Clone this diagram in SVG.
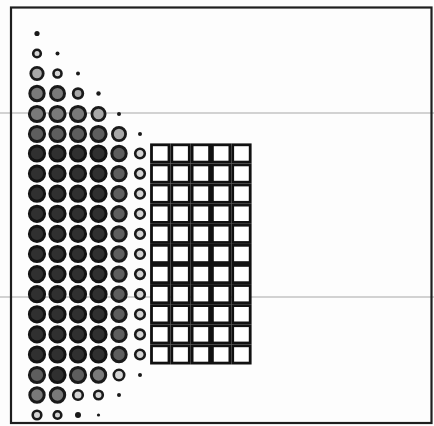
<svg xmlns="http://www.w3.org/2000/svg" xmlns:xlink="http://www.w3.org/1999/xlink" width="434" height="426" viewBox="0 0 434 426">
<style>
.bg{fill:#fdfdfd}
.frame{fill:none;stroke:#1e1e1e;stroke-width:2.2}
.rule{stroke:#a8a8a8;stroke-width:1.2}
.dk{fill:#303030;stroke:#141414;stroke-width:3}
.md{fill:#5e5e5e;stroke:#1a1a1a;stroke-width:3}
.gr{fill:#7a7a7a;stroke:#1a1a1a;stroke-width:3}
.lt{fill:#a8a8a8;stroke:#1a1a1a;stroke-width:2.8}
.rg{fill:#d4d4d4;stroke:#1a1a1a;stroke-width:2.6}
.dot{fill:#1a1a1a}
.sq{fill:#fff;stroke:#111;stroke-width:2.8}
</style>
<defs>
<rect id="s" class="sq" width="17.5" height="17.3"/>
<circle id="big" class="dk" r="7.6"/>
<circle id="m5" class="md" r="7.2"/>
<circle id="r6" class="rg" r="4.8"/>
<g id="row">
<use href="#big" x="37"/><use href="#big" x="57.5"/><use href="#big" x="78"/><use href="#big" x="98.5"/>
<use href="#m5" x="119"/><use href="#r6" x="140"/>
<use href="#s" x="151.5" y="-8.7"/><use href="#s" x="171.8" y="-8.7"/><use href="#s" x="192.1" y="-8.7"/><use href="#s" x="212.4" y="-8.7"/><use href="#s" x="232.7" y="-8.7"/>
</g>
</defs>
<rect class="bg" x="0" y="0" width="434" height="426"/>
<line class="rule" x1="0" y1="113" x2="434" y2="113"/>
<line class="rule" x1="0" y1="297" x2="434" y2="297"/>
<rect class="frame" x="11" y="7.5" width="420.5" height="415.5"/>
<g id="top-rows">
<circle class="dot" cx="37" cy="33.5" r="2.6"/>
<circle class="rg" cx="37" cy="53.5" r="3.8"/>
<circle class="dot" cx="57.5" cy="53.5" r="2"/>
<circle class="lt" cx="37" cy="73.5" r="6.2"/>
<circle class="rg" cx="57.5" cy="73.5" r="4"/>
<circle class="dot" cx="78" cy="73.5" r="2"/>
<circle class="gr" cx="37" cy="93.5" r="7.2"/>
<circle class="gr" cx="57.5" cy="93.5" r="7"/>
<circle class="lt" cx="78" cy="93.5" r="4.8"/>
<circle class="dot" cx="98.5" cy="93.5" r="2.2"/>
<circle class="gr" cx="37" cy="114" r="7.6"/>
<circle class="gr" cx="57.5" cy="114" r="7.6"/>
<circle class="gr" cx="78" cy="114" r="7.6"/>
<circle class="lt" cx="98.5" cy="114" r="6.6"/>
<circle class="dot" cx="119" cy="114" r="2"/>
<circle class="md" cx="37" cy="134" r="7.6"/>
<circle class="md" cx="57.5" cy="134" r="7.6"/>
<circle class="md" cx="78" cy="134" r="7.6"/>
<circle class="md" cx="98.5" cy="134" r="7.6"/>
<circle class="lt" cx="119" cy="134" r="6.6"/>
<circle class="dot" cx="140" cy="134" r="2"/>
</g>
<g id="middle-rows">
<use href="#row" y="153.5"/>
<use href="#row" y="173.6"/>
<use href="#row" y="193.7"/>
<use href="#row" y="213.8"/>
<use href="#row" y="233.9"/>
<use href="#row" y="254"/>
<use href="#row" y="274.1"/>
<use href="#row" y="294.2"/>
<use href="#row" y="314.3"/>
<use href="#row" y="334.4"/>
<use href="#row" y="354.5"/>
</g>
<g id="bottom-rows">
<circle class="md" cx="37" cy="375" r="7.6"/>
<circle class="dk" cx="57.5" cy="375" r="7.6"/>
<circle class="md" cx="78" cy="375" r="7.6"/>
<circle class="gr" cx="98.5" cy="375" r="7.2"/>
<circle class="rg" cx="119" cy="375" r="5.2"/>
<circle class="dot" cx="140" cy="375" r="2"/>
<circle class="gr" cx="37" cy="395" r="7.2"/>
<circle class="gr" cx="57.5" cy="395" r="7.2"/>
<circle class="rg" cx="78" cy="395" r="4.8"/>
<circle class="rg" cx="98.5" cy="395" r="4.3"/>
<circle class="dot" cx="119" cy="395" r="2"/>
<circle class="rg" cx="37" cy="415" r="4.3"/>
<circle class="rg" cx="57.5" cy="415" r="3.8"/>
<circle class="dot" cx="78" cy="415" r="3"/>
<circle class="dot" cx="98.5" cy="415" r="1.6"/>
</g>
</svg>
